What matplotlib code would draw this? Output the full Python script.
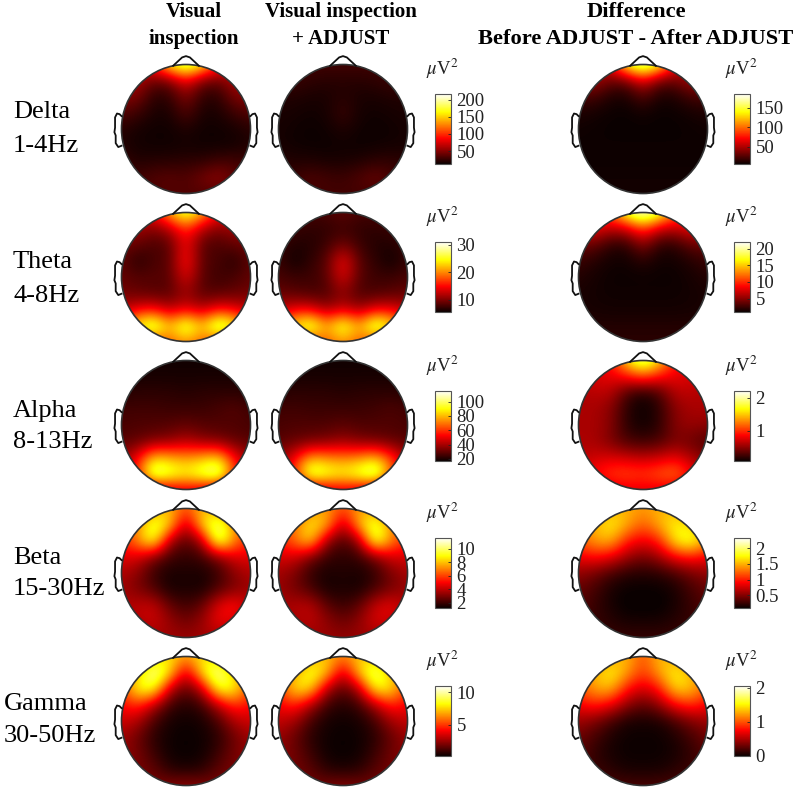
import numpy as np
import matplotlib
matplotlib.use("Agg")
import matplotlib.pyplot as plt
from matplotlib.patches import Circle

plt.rcParams['font.family'] = ['Liberation Serif', 'DejaVu Serif']
plt.rcParams['mathtext.fontset'] = 'stix'

W, H = 800, 791

column_titles = [["Visual", "inspection"], ["Visual inspection", "+ ADJUST"],
                 ["Difference", "Before ADJUST - After ADJUST"]]
band_names = ["Delta", "Theta", "Alpha", "Beta", "Gamma"]
band_ranges = ["1-4Hz", "4-8Hz", "8-13Hz", "15-30Hz", "30-50Hz"]

# power on a 9 x 9 scalp grid, front row first (uV^2)
delta_vis = [[80,80,100,170,205,170,100,80,80],
             [60,65,40,45,85,45,40,65,60],
             [50,48,22,24,50,24,22,48,50],
             [35,28,18,18,35,18,18,28,35],
             [22,17,15,15,20,15,15,17,22],
             [20,16,15,15,16,15,15,16,20],
             [28,20,22,22,24,24,30,30,28],
             [30,30,35,38,34,45,55,40,30],
             [30,30,32,34,34,34,32,30,30]]
delta_adj = [[30,30,30,30,30,30,30,30,30],
             [28,28,24,22,22,22,24,28,28],
             [20,20,18,18,22,18,18,20,20],
             [18,17,15,17,28,17,15,17,18],
             [17,15,14,15,20,15,14,15,17],
             [17,15,14,14,15,14,15,16,17],
             [22,20,20,18,18,20,24,25,22],
             [25,28,34,30,28,34,42,32,25],
             [28,28,30,30,30,30,30,28,28]]
delta_dif = [[50,50,70,150,185,150,70,50,50],
             [40,50,30,30,65,30,30,50,40],
             [22,20,10,9,24,9,10,20,22],
             [10,8,6,5,8,5,6,8,10],
             [7,6,5,5,5,5,5,6,7],
             [6,6,6,6,6,6,6,6,6],
             [6,6,6,6,6,6,6,6,6],
             [7,7,7,7,7,7,7,7,7],
             [8,8,8,8,8,8,8,8,8]]
theta_vis = [[14,14,15,22,28,22,15,14,14],
             [11,11.5,10,12,17,12,10,11.5,11],
             [9.5,9,8,8.5,15,8.5,8,9,9.5],
             [9,6.5,8,8.5,16,8.5,8,6.5,9],
             [9,8.5,8.5,8.5,14,8.5,7.5,8,9],
             [9.5,9,8.5,8.5,11,8.5,8.5,9,9.5],
             [12,14,15,12,14,12,15,14,12],
             [18,26,30,22,29,22,31,26,18],
             [14,14,16,18,20,18,16,14,14]]
theta_adj = [[8,8,8,8,9,8,8,8,8],
             [7.5,7.5,7,7,7.5,7,7,7.5,7.5],
             [7.5,6.5,6.5,7.5,9.5,7.5,6.5,6.5,7.5],
             [7.5,5.6,7,8.5,15,8.5,7,5.6,7.5],
             [8,7.5,7.5,8.5,14,8.5,7.5,7.5,8],
             [9,8.5,8,8,10.5,8,8,8.5,9],
             [12,14,14,11,13,11,14,14,12],
             [18,25,29,21,28,21,30,25,18],
             [14,14,16,18,20,18,16,14,14]]
theta_dif = [[10,10,12,19,23,19,12,10,10],
             [7,8.5,6.5,7,11,7,6.5,8.5,7],
             [4,3.8,2,2,5,2,2,3.8,4],
             [2.5,1.8,1.3,1.2,2,1.2,1.3,1.8,2.5],
             [1.8,1.4,1.1,1.1,1.1,1.1,1.1,1.4,1.8],
             [1.5,1.3,1.2,1.2,1.2,1.2,1.2,1.3,1.5],
             [1.5,1.4,1.3,1.3,1.3,1.3,1.3,1.4,1.5],
             [1.8,1.8,1.8,1.8,1.8,1.8,1.8,1.8,1.8],
             [2,2,2,2,2,2,2,2,2]]
alpha_vis = [[18,18,18,18,18,18,18,18,18],
             [19,19,19,19,19,19,19,19,19],
             [21,22,22,22,21,22,22,22,21],
             [25,25,25,24,24,24,26,28,25],
             [26,27,27,28,30,28,27,27,26],
             [28,30,34,36,42,36,34,30,28],
             [38,50,82,78,74,78,84,52,38],
             [38,60,112,100,92,102,114,62,38],
             [25,28,32,42,46,42,32,28,25]]
alpha_adj = [[18,18,18,18,18,18,18,18,18],
             [19,19,19,19,19,19,19,19,19],
             [21,22,22,22,21,22,22,22,21],
             [25,25,24,24,24,24,25,27,25],
             [26,27,27,27,29,27,27,27,26],
             [28,30,32,34,38,34,32,30,28],
             [36,50,76,72,70,72,80,60,38],
             [38,62,108,98,92,100,114,70,40],
             [25,28,32,42,46,42,32,28,25]]
alpha_dif = [[0.8,0.8,0.9,1.6,2.1,1.6,0.9,0.8,0.8],
             [0.7,0.75,0.8,0.9,1.1,0.9,0.8,0.75,0.7],
             [0.6,0.65,0.65,0.3,0.15,0.3,0.65,0.65,0.6],
             [0.6,0.6,0.5,0.2,0.1,0.2,0.5,0.6,0.6],
             [0.6,0.6,0.5,0.2,0.12,0.2,0.5,0.55,0.5],
             [0.6,0.6,0.45,0.3,0.25,0.3,0.45,0.4,0.3],
             [0.65,0.7,0.75,0.7,0.65,0.7,0.8,0.6,0.45],
             [0.7,0.9,1.05,1.1,1.05,1.15,1.25,0.9,0.6],
             [0.5,0.6,0.7,0.75,0.75,0.75,0.7,0.6,0.5]]
beta_vis = [[5.5,6,7,8,6,8,7,6,5.5],
            [6,7,10,8.5,3.5,8.5,10.5,7,6],
            [5.5,7,10,3.5,2.4,3.5,11,7,5.5],
            [4.5,4.5,3,2,1.8,2,3,4.5,4.5],
            [3.8,3.2,1.9,1.4,1.5,1.4,1.9,3.2,3.8],
            [3.5,3,2.3,1.4,1.5,1.4,2.3,3,3.5],
            [3.8,4,4.2,2.6,2,2.6,4.6,5.4,3.8],
            [3.5,3.8,4.2,3.4,2.8,3.4,4.8,4.4,3.5],
            [3,3.2,3.5,3.5,3.4,3.5,3.5,3.2,3]]
beta_adj = [[5.5,6,7,7.5,6,7.5,7,6,5.5],
            [6,6.6,8.8,8,3.5,8,10,7,6],
            [5.5,6.6,8.8,3.3,2.2,3.3,10.4,7,5.5],
            [4.3,4.4,2.9,1.9,1.7,1.9,2.9,4.4,4.3],
            [3.6,3,1.8,1.4,1.6,1.4,1.8,3,3.6],
            [3.4,2.9,2.2,1.4,1.5,1.4,2.2,2.9,3.4],
            [3.6,3.8,4,2.5,1.9,2.5,4.2,4.8,3.6],
            [3.3,3.6,4,3.3,2.7,3.3,4.4,4.2,3.3],
            [3,3.2,3.4,3.4,3.3,3.4,3.4,3.2,3]]
beta_dif = [[1.3,1.3,1.5,1.5,1.4,1.5,1.5,1.3,1.3],
            [1.3,1.5,1.75,1.5,1.2,1.5,1.75,1.6,1.3],
            [1.2,1.45,1.55,1.0,0.85,1.0,1.75,1.95,1.4],
            [0.85,0.95,0.85,0.6,0.45,0.6,0.9,1.0,0.85],
            [0.55,0.45,0.3,0.2,0.18,0.2,0.3,0.45,0.55],
            [0.4,0.3,0.15,0.1,0.1,0.1,0.15,0.3,0.4],
            [0.35,0.25,0.15,0.08,0.08,0.08,0.15,0.25,0.35],
            [0.3,0.25,0.2,0.15,0.15,0.15,0.2,0.25,0.3],
            [0.25,0.25,0.25,0.25,0.25,0.25,0.25,0.25,0.25]]
gamma_vis = [[5,5.5,7,8,6.5,8,7,5.5,5],
             [6,7,10.5,8,3,8,10.5,7,6],
             [5,8.5,9,3,1.5,3,9,8.5,5],
             [4,5,3,1,0.6,1,3,5,4],
             [3.4,2.9,1.2,0.4,0.3,0.4,1.2,2.9,3.4],
             [2.6,1.8,0.7,0.3,0.2,0.3,0.7,1.8,2.6],
             [2.4,2,1,0.3,0.2,0.3,1,2,2.4],
             [2,2,1.6,0.7,0.5,0.7,1.6,2,2],
             [2,2,2,2.2,2.4,2.2,2,2,2]]
gamma_adj = [[5,5.5,6.5,7.5,6,7.5,6.8,5.5,5],
             [5.8,6.6,9,7.5,3,7.5,10,7,5.8],
             [4.8,8,8,2.8,1.4,2.8,8.6,8,4.8],
             [3.8,4.8,2.8,1,0.6,1,2.8,4.8,3.8],
             [3.2,2.7,1.1,0.4,0.3,0.4,1.1,2.7,3.2],
             [2.5,1.7,0.7,0.3,0.2,0.3,0.7,1.7,2.5],
             [2.3,1.9,1,0.3,0.2,0.3,1,1.9,2.3],
             [1.9,1.9,1.5,0.7,0.5,0.7,1.5,1.9,1.9],
             [1.9,1.9,1.9,2,2.2,2,1.9,1.9,1.9]]
gamma_dif = [[1.0,1.0,1.2,1.35,0.95,1.35,1.2,1.0,1.0],
             [1.1,1.3,1.55,1.25,0.9,1.25,1.55,1.3,1.1],
             [1.0,1.25,1.35,0.8,0.6,0.8,1.45,1.35,1.0],
             [0.7,0.85,0.7,0.4,0.25,0.4,0.75,0.9,0.7],
             [0.45,0.35,0.18,0.05,0.04,0.05,0.18,0.35,0.45],
             [0.3,0.18,0.06,0.01,0.01,0.01,0.06,0.18,0.3],
             [0.25,0.12,0.04,0.01,0.01,0.01,0.04,0.12,0.25],
             [0.2,0.15,0.1,0.04,0.04,0.04,0.1,0.15,0.2],
             [0.2,0.2,0.2,0.2,0.2,0.2,0.2,0.2,0.2]]

maps = [[delta_vis, delta_adj, delta_dif],
        [theta_vis, theta_adj, theta_dif],
        [alpha_vis, alpha_adj, alpha_dif],
        [beta_vis, beta_adj, beta_dif],
        [gamma_vis, gamma_adj, gamma_dif]]

scale_shared = [(13, 216), (5.6, 31), (17, 115), (1.2, 11.6), (0.2, 11)]
scale_diff = [(5, 185), (1, 22), (0.1, 2.2), (0.1, 2.32), (0, 2.05)]
ticks_shared = [[50, 100, 150, 200], [10, 20, 30], [20, 40, 60, 80, 100],
                [2, 4, 6, 8, 10], [5, 10]]
ticks_diff = [[50, 100, 150], [5, 10, 15, 20], [1, 2], [0.5, 1, 1.5, 2], [0, 1, 2]]
labels_shared = [["50", "100", "150", "200"], ["10", "20", "30"],
                 ["20", "40", "60", "80", "100"], ["2", "4", "6", "8", "10"], ["5", "10"]]
labels_diff = [["50", "100", "150"], ["5", "10", "15", "20"], ["1", "2"],
               ["0.5", "1", "1.5", "2"], ["0", "1", "2"]]

col_x = [186, 343, 643]
row_y = [129, 277, 425, 573, 721]
radius = 64.5
cbar_top = [94, 242, 391, 538, 686]
cbar_h = 70
cbar_x = [435, 435, 734]
cbar_w = 16


def px_axes(x0, y0, w, h):
    return fig.add_axes([x0 / W, 1 - (y0 + h) / H, w / W, h / H])


fig = plt.figure(figsize=(W / 100, H / 100), dpi=100)

# outline pieces of the head sketch
nose_x = [-0.20, -0.06, 0, 0.06, 0.20]
nose_y = [0.98, 1.11, 1.13, 1.11, 0.98]
ear_x = [1.00, 1.03, 1.07, 1.10, 1.10, 1.11, 1.09, 1.09, 1.05, 1.00]
ear_y = [0.20, 0.23, 0.24, 0.18, 0.02, -0.05, -0.10, -0.22, -0.28, -0.26]

for r in range(5):
    for c in range(3):
        vmin, vmax = scale_diff[r] if c == 2 else scale_shared[r]
        ext = 1.2
        ax = px_axes(col_x[c] - ext * radius, row_y[r] - ext * radius,
                     2 * ext * radius, 2 * ext * radius)
        ax.axis('off')
        im = ax.imshow(np.array(maps[r][c], dtype=float), cmap='hot', vmin=vmin, vmax=vmax,
                       extent=(-1.125, 1.125, -1.125, 1.125), origin='upper',
                       interpolation='bicubic', aspect='equal')
        im.set_clip_path(Circle((0, 0), 1.0, transform=ax.transData))
        ax.set_xlim(-ext, ext)
        ax.set_ylim(-ext, ext)
        ax.add_patch(Circle((0, 0), 1.0, fill=False, ec='#333333', lw=1.2))
        ax.plot(nose_x, nose_y, color='#111111', lw=1.3, clip_on=False)
        ax.plot(ear_x, ear_y, color='#111111', lw=1.3, clip_on=False)
        ax.plot(-np.array(ear_x), ear_y, color='#111111', lw=1.3, clip_on=False)

    for c, cx in [(0, cbar_x[0]), (2, cbar_x[2])]:
        vmin, vmax = scale_diff[r] if c == 2 else scale_shared[r]
        sm = plt.cm.ScalarMappable(norm=plt.Normalize(vmin, vmax), cmap='hot')
        cax = px_axes(cx, cbar_top[r], cbar_w, cbar_h)
        cb = fig.colorbar(sm, cax=cax)
        cb.set_ticks(ticks_diff[r] if c == 2 else ticks_shared[r])
        cb.set_ticklabels(labels_diff[r] if c == 2 else labels_shared[r])
        cb.ax.tick_params(length=2, width=0.6, direction='in', labelsize=13.5, pad=4, colors='#222222')
        cb.outline.set_linewidth(0.8)
        cb.outline.set_edgecolor('#555555')
        fig.text((cx - 9) / W, 1 - (cbar_top[r] - 25) / H, r'$\mu$V$^2$', fontsize=13.5,
                 va='center', ha='left', color='#222222')

name_x = [13, 13, 13, 13, 4]
name_y = [112, 262, 411, 558, 704]
range_y = [146, 296, 442, 589, 736]
range_x = [13, 13, 13, 13, 4]
for r in range(5):
    fig.text(name_x[r] / W, 1 - name_y[r] / H, band_names[r], fontsize=19, va='center', ha='left')
    fig.text(range_x[r] / W, 1 - range_y[r] / H, band_ranges[r], fontsize=19, va='center', ha='left')

title_x = [194, 341, 636]
title_size = [15, 15, 16.2]
for c in range(3):
    fig.text(title_x[c] / W, 1 - 12 / H, column_titles[c][0], fontsize=title_size[c], fontweight='bold',
             va='center', ha='center')
    fig.text(title_x[c] / W, 1 - 39 / H, column_titles[c][1], fontsize=title_size[c], fontweight='bold',
             va='center', ha='center')

fig.savefig('out.png', dpi=100, facecolor='white')
